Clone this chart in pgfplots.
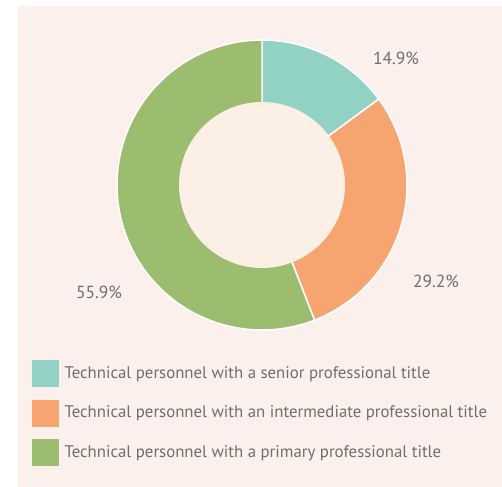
\documentclass[border=0pt]{standalone}
\usepackage{pgfplots}
\pgfplotsset{compat=1.18}
\usepackage{pgfplotstable}
\usepackage{fontspec}
\setmainfont{PT Sans}
\definecolor{cteal}{HTML}{92D2C5}
\definecolor{corange}{HTML}{F7A570}
\definecolor{cgreen}{HTML}{9CBD70}
\definecolor{cbg}{HTML}{FBF0EB}
\definecolor{cinner}{HTML}{FCF0E6}
\definecolor{ctext}{HTML}{6F6F6F}
\pgfplotstableread{
label value
senior 14.9
intermediate 29.2
primary 55.9
}\datatable
\begin{document}%
\begin{tikzpicture}
\pgfplotstablegetelem{0}{value}\of\datatable \let\va\pgfplotsretval
\pgfplotstablegetelem{1}{value}\of\datatable \let\vb\pgfplotsretval
\pgfplotstablegetelem{2}{value}\of\datatable \let\vc\pgfplotsretval
\pgfmathsetmacro\aA{90}
\pgfmathsetmacro\aB{90-3.6*\va}
\pgfmathsetmacro\aC{\aB-3.6*\vb}
\pgfmathsetmacro\aD{\aC-3.6*\vc}
\fill[white] (0,0) rectangle (502bp,487bp);
\fill[cbg] (18bp,0) rectangle (502bp,481bp);
\begin{axis}[
  scale only axis, width=502bp, height=487bp,
  xmin=0, xmax=502, ymin=0, ymax=487,
  hide axis, clip=false,
  legend style={draw=none, fill=none, at={(axis cs:32,127)}, anchor=north west,
    inner sep=0pt, row sep=13bp, column sep=6bp,
    font=\fontsize{16.8bp}{19bp}\selectfont, text=ctext,
    nodes={inner sep=0pt}},
  legend cell align=left,
  legend image code/.code={\fill[#1] (0bp,-13bp) rectangle (26bp,13bp);},
]
\addplot[fill=cteal, draw=white, line width=1.5bp, domain=\aB:\aA, samples=80, variable=\t, forget plot]
  ({262+145*cos(\t)},{302+145*sin(\t)}) -- (axis cs:262,302) -- cycle;
\addplot[fill=corange, draw=white, line width=1.5bp, domain=\aC:\aB, samples=120, variable=\t, forget plot]
  ({262+145*cos(\t)},{302+145*sin(\t)}) -- (axis cs:262,302) -- cycle;
\addplot[fill=cgreen, draw=white, line width=1.5bp, domain=\aD:\aC, samples=200, variable=\t, forget plot]
  ({262+145*cos(\t)},{302+145*sin(\t)}) -- (axis cs:262,302) -- cycle;
\addplot[fill=cinner, draw=none, domain=0:360, samples=150, variable=\t, forget plot]
  ({262+83*cos(\t)},{302+83*sin(\t)}) -- cycle;
\addlegendimage{cteal}
\addlegendentry{Technical personnel with a senior professional title}
\addlegendimage{corange}
\addlegendentry{Technical personnel with an intermediate professional title}
\addlegendimage{cgreen}
\addlegendentry{Technical personnel with a primary professional title}
\node[font=\fontsize{17.5bp}{20bp}\selectfont, text=ctext] at (axis cs:396,429) {14.9\%};
\node[font=\fontsize{17.5bp}{20bp}\selectfont, text=ctext] at (axis cs:436,206) {29.2\%};
\node[font=\fontsize{17.5bp}{20bp}\selectfont, text=ctext] at (axis cs:99,195) {55.9\%};
\end{axis}
\end{tikzpicture}%
\end{document}
